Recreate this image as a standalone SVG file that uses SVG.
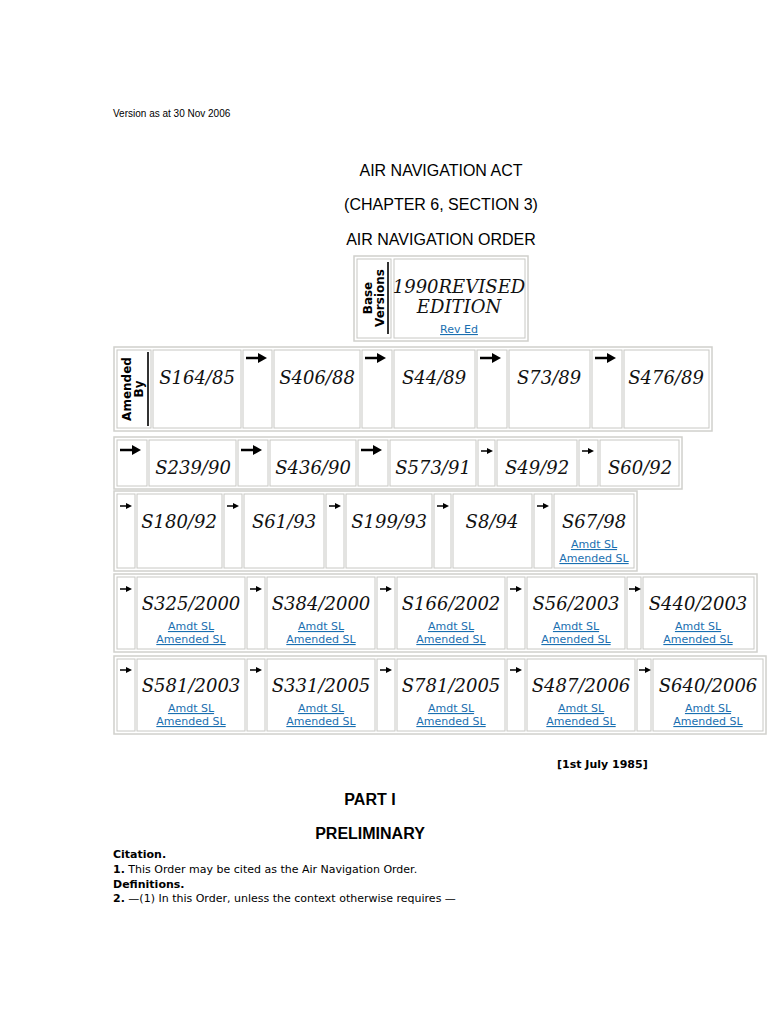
<svg xmlns="http://www.w3.org/2000/svg" width="768" height="1024" viewBox="0 0 768 1024">
<style>
.t{fill:#fff;stroke:#d0d0cc;stroke-width:1.5}
.c{fill:#fff;stroke:#c8c8c4;stroke-width:1}
.s{font-family:"DejaVu Serif",serif;font-style:italic;font-size:18px;fill:#111;text-anchor:middle}
.l{font-family:"DejaVu Sans",sans-serif;font-size:11px;fill:#1a6fb0;text-anchor:middle;text-decoration:underline}
.h{font-family:"Liberation Sans",Arial,sans-serif;font-size:16px;fill:#000;text-anchor:middle}
.b{font-family:"DejaVu Sans",sans-serif;font-size:11px;fill:#000}
.v{font-family:"DejaVu Sans",sans-serif;font-weight:bold;font-size:12px;fill:#000;text-anchor:middle}
</style>
<defs>
<g id="ab"><line x1="0" y1="0" x2="16" y2="0" stroke="#000" stroke-width="2.5"/><path d="M12,-5 L21,0 L12,5 Z" fill="#000"/></g>
<g id="as"><line x1="0" y1="0" x2="8" y2="0" stroke="#000" stroke-width="1.5"/><path d="M6,-3 L12,0 L6,3 Z" fill="#000"/></g>
</defs>
<rect width="768" height="1024" fill="#fff"/>
<text x="113" y="117" font-family="Liberation Sans, sans-serif" font-size="10">Version as at 30 Nov 2006</text>
<text class="h" x="441" y="176">AIR NAVIGATION ACT</text>
<text class="h" x="441" y="210">(CHAPTER 6, SECTION 3)</text>
<text class="h" x="441" y="245">AIR NAVIGATION ORDER</text>

<g id="base">
<rect class="t" x="354" y="256" width="174" height="85"/>
<rect class="c" x="357" y="259" width="34" height="79"/>
<line x1="388" y1="262" x2="388" y2="334" stroke="#333" stroke-width="2"/>
<text class="v" transform="translate(372,298) rotate(-90)">Base</text>
<text class="v" transform="translate(384,298) rotate(-90)">Versions</text>
<rect class="c" x="394" y="259" width="131" height="79"/>
<text class="s" x="459" y="293" font-size="16">1990REVISED</text>
<text class="s" x="459" y="313" font-size="16">EDITION</text>
<text class="l" x="459" y="333">Rev Ed</text>
</g>

<g id="row1">
<rect class="t" x="114" y="347" width="598" height="84"/>
<rect class="c" x="117" y="350" width="34" height="78"/>
<line x1="148" y1="352" x2="148" y2="426" stroke="#333" stroke-width="2"/>
<text class="v" transform="translate(131,389) rotate(-90)">Amended</text>
<text class="v" transform="translate(143,389) rotate(-90)">By</text>
<rect class="c" x="153" y="350" width="88" height="78"/><text class="s" x="197" y="384">S164/85</text>
<rect class="c" x="243" y="350" width="29" height="78"/><use href="#ab" x="246" y="358"/>
<rect class="c" x="274" y="350" width="86" height="78"/><text class="s" x="317" y="384">S406/88</text>
<rect class="c" x="362" y="350" width="30" height="78"/><use href="#ab" x="365" y="358"/>
<rect class="c" x="394" y="350" width="81" height="78"/><text class="s" x="434" y="384">S44/89</text>
<rect class="c" x="477" y="350" width="30" height="78"/><use href="#ab" x="480" y="358"/>
<rect class="c" x="509" y="350" width="81" height="78"/><text class="s" x="549" y="384">S73/89</text>
<rect class="c" x="592" y="350" width="30" height="78"/><use href="#ab" x="595" y="358"/>
<rect class="c" x="624" y="350" width="85" height="78"/><text class="s" x="666" y="384">S476/89</text>
</g>

<g id="row2">
<rect class="t" x="114" y="437" width="568" height="52"/>
<rect class="c" x="117" y="440" width="30" height="46"/><use href="#ab" x="120" y="450"/>
<rect class="c" x="149" y="440" width="87" height="46"/><text class="s" x="193" y="474">S239/90</text>
<rect class="c" x="238" y="440" width="30" height="46"/><use href="#ab" x="241" y="450"/>
<rect class="c" x="270" y="440" width="86" height="46"/><text class="s" x="313" y="474">S436/90</text>
<rect class="c" x="358" y="440" width="30" height="46"/><use href="#ab" x="361" y="450"/>
<rect class="c" x="390" y="440" width="86" height="46"/><text class="s" x="433" y="474">S573/91</text>
<rect class="c" x="478" y="440" width="17" height="46"/><use href="#as" x="481" y="451"/>
<rect class="c" x="497" y="440" width="80" height="46"/><text class="s" x="537" y="474">S49/92</text>
<rect class="c" x="579" y="440" width="19" height="46"/><use href="#as" x="582" y="451"/>
<rect class="c" x="600" y="440" width="79" height="46"/><text class="s" x="640" y="474">S60/92</text>
</g>

<g id="row3">
<rect class="t" x="114" y="491" width="523" height="80"/>
<rect class="c" x="117" y="494" width="18" height="74"/><use href="#as" x="120" y="506"/>
<rect class="c" x="137" y="494" width="85" height="74"/><text class="s" x="179" y="528">S180/92</text>
<rect class="c" x="224" y="494" width="18" height="74"/><use href="#as" x="227" y="506"/>
<rect class="c" x="244" y="494" width="80" height="74"/><text class="s" x="284" y="528">S61/93</text>
<rect class="c" x="326" y="494" width="18" height="74"/><use href="#as" x="329" y="506"/>
<rect class="c" x="346" y="494" width="86" height="74"/><text class="s" x="389" y="528">S199/93</text>
<rect class="c" x="434" y="494" width="17" height="74"/><use href="#as" x="437" y="506"/>
<rect class="c" x="453" y="494" width="79" height="74"/><text class="s" x="492" y="528">S8/94</text>
<rect class="c" x="534" y="494" width="18" height="74"/><use href="#as" x="537" y="506"/>
<rect class="c" x="554" y="494" width="80" height="74"/><text class="s" x="594" y="528">S67/98</text>
<text class="l" x="594" y="548">Amdt SL</text><text class="l" x="594" y="562">Amended SL</text>
</g>

<g id="row4">
<rect class="t" x="114" y="574" width="643" height="78"/>
<rect class="c" x="117" y="577" width="18" height="72"/><use href="#as" x="120" y="589"/>
<rect class="c" x="137" y="577" width="108" height="72"/><text class="s" x="191" y="610">S325/2000</text>
<text class="l" x="191" y="630">Amdt SL</text><text class="l" x="191" y="643">Amended SL</text>
<rect class="c" x="247" y="577" width="18" height="72"/><use href="#as" x="250" y="589"/>
<rect class="c" x="267" y="577" width="108" height="72"/><text class="s" x="321" y="610">S384/2000</text>
<text class="l" x="321" y="630">Amdt SL</text><text class="l" x="321" y="643">Amended SL</text>
<rect class="c" x="377" y="577" width="18" height="72"/><use href="#as" x="380" y="589"/>
<rect class="c" x="397" y="577" width="108" height="72"/><text class="s" x="451" y="610">S166/2002</text>
<text class="l" x="451" y="630">Amdt SL</text><text class="l" x="451" y="643">Amended SL</text>
<rect class="c" x="507" y="577" width="18" height="72"/><use href="#as" x="510" y="589"/>
<rect class="c" x="527" y="577" width="98" height="72"/><text class="s" x="576" y="610">S56/2003</text>
<text class="l" x="576" y="630">Amdt SL</text><text class="l" x="576" y="643">Amended SL</text>
<rect class="c" x="627" y="577" width="14" height="72"/><use href="#as" x="629" y="589"/>
<rect class="c" x="643" y="577" width="111" height="72"/><text class="s" x="698" y="610">S440/2003</text>
<text class="l" x="698" y="630">Amdt SL</text><text class="l" x="698" y="643">Amended SL</text>
</g>

<g id="row5">
<rect class="t" x="114" y="656" width="652" height="78"/>
<rect class="c" x="117" y="659" width="18" height="72"/><use href="#as" x="120" y="670"/>
<rect class="c" x="137" y="659" width="108" height="72"/><text class="s" x="191" y="692">S581/2003</text>
<text class="l" x="191" y="712">Amdt SL</text><text class="l" x="191" y="725">Amended SL</text>
<rect class="c" x="247" y="659" width="18" height="72"/><use href="#as" x="250" y="670"/>
<rect class="c" x="267" y="659" width="108" height="72"/><text class="s" x="321" y="692">S331/2005</text>
<text class="l" x="321" y="712">Amdt SL</text><text class="l" x="321" y="725">Amended SL</text>
<rect class="c" x="377" y="659" width="18" height="72"/><use href="#as" x="380" y="670"/>
<rect class="c" x="397" y="659" width="108" height="72"/><text class="s" x="451" y="692">S781/2005</text>
<text class="l" x="451" y="712">Amdt SL</text><text class="l" x="451" y="725">Amended SL</text>
<rect class="c" x="507" y="659" width="18" height="72"/><use href="#as" x="510" y="670"/>
<rect class="c" x="527" y="659" width="108" height="72"/><text class="s" x="581" y="692">S487/2006</text>
<text class="l" x="581" y="712">Amdt SL</text><text class="l" x="581" y="725">Amended SL</text>
<rect class="c" x="637" y="659" width="14" height="72"/><use href="#as" x="639" y="670"/>
<rect class="c" x="653" y="659" width="110" height="72"/><text class="s" x="708" y="692">S640/2006</text>
<text class="l" x="708" y="712">Amdt SL</text><text class="l" x="708" y="725">Amended SL</text>
</g>

<text class="b" x="557" y="768" font-weight="bold">[1st July 1985]</text>
<text class="h" x="370" y="805" font-weight="bold">PART I</text>
<text class="h" x="370" y="839" font-weight="bold">PRELIMINARY</text>
<text class="b" x="113" y="858" font-weight="bold">Citation.</text>
<text class="b" x="113" y="873"><tspan font-weight="bold">1.</tspan> This Order may be cited as the Air Navigation Order.</text>
<text class="b" x="113" y="888" font-weight="bold">Definitions.</text>
<text class="b" x="113" y="902"><tspan font-weight="bold">2.</tspan> —(1) In this Order, unless the context otherwise requires —</text>
</svg>
